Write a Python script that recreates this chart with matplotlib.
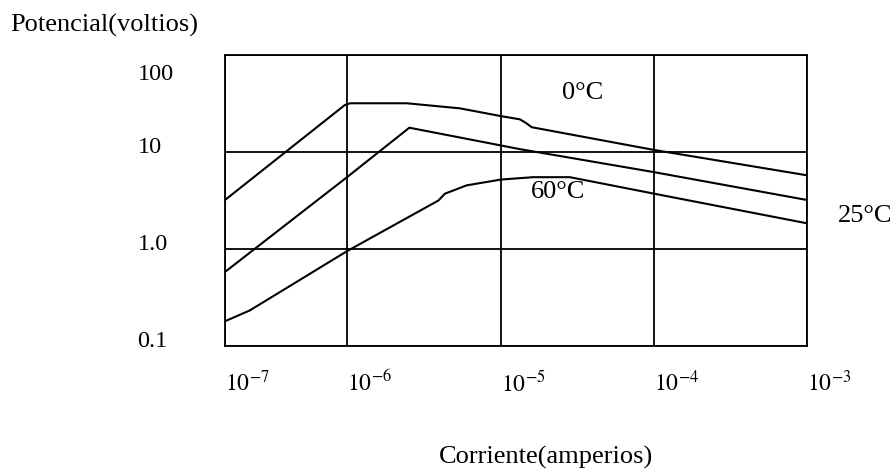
import numpy as np
import matplotlib
matplotlib.use('Agg')
import matplotlib.pyplot as plt
from matplotlib.ticker import NullLocator
from matplotlib.transforms import ScaledTranslation

plt.rcParams['font.family'] = ['Liberation Serif', 'DejaVu Serif']
plt.rcParams['mathtext.fontset'] = 'stix'

# curves (current in A, voltage in V)
i_top = [1e-7, 9.6e-7, 1.05e-6, 2.44e-6, 5.4e-6, 9.9e-6, 1.33e-5, 1.45e-5, 1.59e-5, 1e-4, 1e-3]
v_top = [3.2, 30.5, 31.8, 31.8, 28.2, 23.5, 21.7, 20.0, 18.0, 10.5, 5.75]

i_mid = [1e-7, 1e-6, 2.54e-6, 1.33e-5, 1e-4, 1e-3]
v_mid = [0.58, 5.5, 17.8, 10.7, 6.2, 3.2]

i_low = [1e-7, 1.6e-7, 1e-6, 3.92e-6, 4.33e-6, 5.98e-6, 1e-5, 1.62e-5, 2.82e-5, 1e-4, 1e-3]
v_low = [0.18, 0.233, 0.95, 3.16, 3.72, 4.53, 5.2, 5.5, 5.5, 3.72, 1.84]

x_ticks = [1e-7, 1e-6, 1e-5, 1e-4, 1e-3]
x_labels = ['$10^{-7}$', '$10^{-6}$', '$10^{-5}$', '$10^{-4}$', '$10^{-3}$']
y_ticks = [0.1, 1, 10, 100]
y_labels = ['0.1', '1.0', '10', '100']

# curve labels: (text, current, voltage)
curve_labels = [('0°C', 3.4e-5, 40.6), ('60°C', 2.36e-5, 3.83), ('25°C', 2.4e-3, 2.2)]

# the hand drawn x axis has a shorter first decade
dec = [-20, -7, -6, -5, -4, -3, 10]
pos = [-1989, 0, 122, 276, 429, 582, 2571]


def fwd(x):
    return np.interp(np.log10(np.clip(x, 1e-30, None)), dec, pos)


def inv(p):
    return 10 ** np.interp(p, pos, dec)


fig = plt.figure(figsize=(8.95, 4.72), dpi=100)
ax = fig.add_axes([225 / 895, 126 / 472, 582 / 895, 291 / 472])
ax.set_xscale('function', functions=(fwd, inv))
ax.set_yscale('log')
ax.set_xlim(1e-7, 1e-3)
ax.set_ylim(0.1, 100)

for xs, ys in [(i_top, v_top), (i_mid, v_mid), (i_low, v_low)]:
    ax.plot(xs, ys, color='black', lw=1.5, solid_joinstyle='round')

ax.set_xticks(x_ticks)
ax.set_xticklabels(x_labels, fontsize=17, ha='left')
ax.xaxis.set_minor_locator(NullLocator())
ax.set_yticks(y_ticks)
ax.set_yticklabels(y_labels, fontsize=17.5, ha='left')
ax.yaxis.set_minor_locator(NullLocator())
ax.tick_params(axis='x', length=0, pad=18)
ax.tick_params(axis='y', length=0, pad=63)
ax.grid(True, color='black', lw=1.3)
for s in ax.spines.values():
    s.set_linewidth(1.3)

# nudge y labels like the scan: 100 sits below the top, others above their lines
for lab, val in zip(ax.get_yticklabels(), y_ticks):
    dy = -17 if val == 100 else 7
    lab.set_transform(lab.get_transform() + ScaledTranslation(0, dy / 100, fig.dpi_scale_trans))

for txt, xi, yv in curve_labels:
    ax.text(xi, yv, txt, fontsize=19, ha='center', va='center')

ax.set_xlabel('Corriente(amperios)', fontsize=19, va='top')
ax.xaxis.set_label_coords(0.552, -0.345)
ax.set_ylabel('Potencial(voltios)', fontsize=19, rotation=0, ha='left', va='center')
ax.yaxis.set_label_coords(-0.369, 1.103)

fig.savefig('out.png', dpi=100)
